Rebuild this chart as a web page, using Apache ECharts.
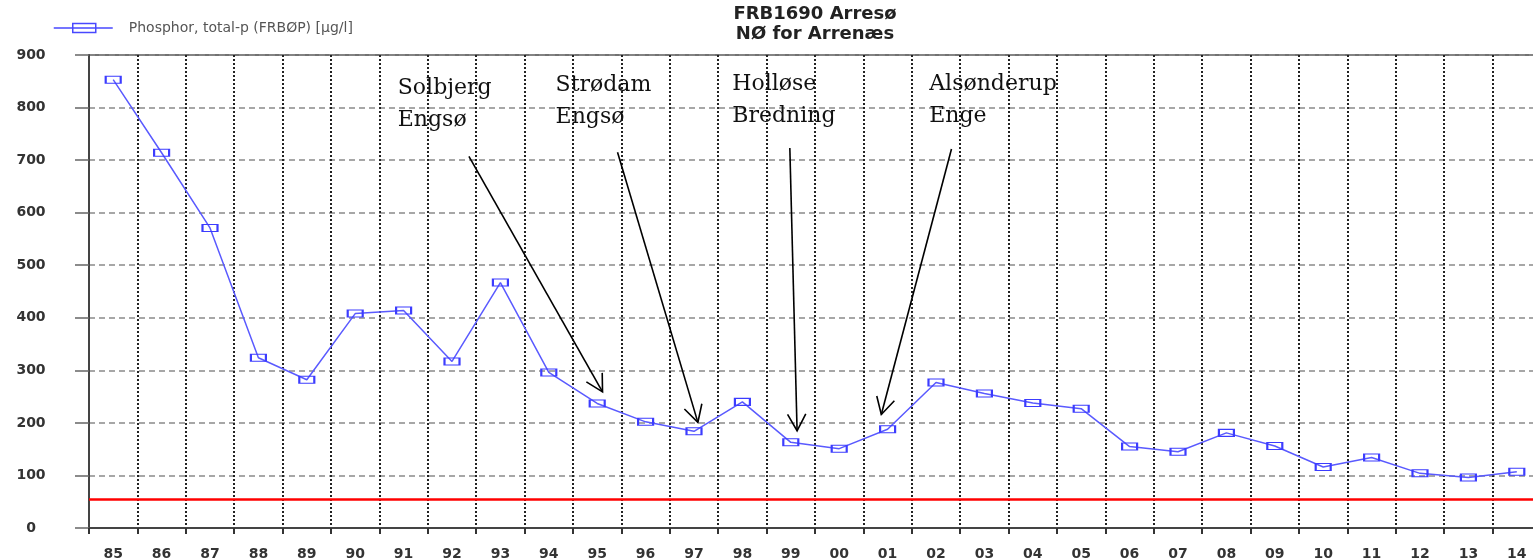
<!DOCTYPE html>
<html>
<head>
<meta charset="utf-8">
<script src="https://cdn.jsdelivr.net/npm/echarts@6/dist/echarts.min.js"></script>
<style>
  html, body { margin: 0; padding: 0; background: #ffffff; }
  #chart { width: 1533px; height: 560px; }
</style>
</head>
<body>
<div id="chart"></div>
<script>
// ---- Data ----
const years = ['85','86','87','88','89','90','91','92','93','94','95','96','97','98','99',
               '00','01','02','03','04','05','06','07','08','09','10','11','12','13','14'];
const phosphorValues = [853, 714, 571, 324, 282, 408, 414, 317, 467, 296, 237, 202, 184, 240, 163,
                        151, 188, 277, 256, 238, 227, 155, 145, 181, 156, 116, 134, 104, 96, 107];
const seriesName = 'Phosphor, total-p (FRBØP) [µg/l]';
const titleLines = ['FRB1690 Arresø', 'NØ for Arrenæs'];
const yTicks = [0, 100, 200, 300, 400, 500, 600, 700, 800, 900];
const targetValue = 54;

// annotations (x in category-index units, y in µg/l)
const annoLabels = ['Solbjerg\nEngsø', 'Strødam\nEngsø', 'Holløse\nBredning', 'Alsønderup\nEnge'];
const annoTextX  = [5.88, 9.14, 12.79, 16.86];
const annoTextY  = [868, 873, 874, 875];
const arrowTailX = [7.35, 10.42, 13.98, 17.32];
const arrowTailY = [707, 715, 723, 721];
const arrowTipX  = [10.11, 12.08, 14.13, 15.87];
const arrowTipY  = [259, 201, 185, 216];

const annoData = annoLabels.map((l, i) =>
  [annoTextX[i], annoTextY[i], arrowTailX[i], arrowTailY[i], arrowTipX[i], arrowTipY[i], i]);

const chart = echarts.init(document.getElementById('chart'), null, { renderer: 'canvas' });

const labelFont = { fontFamily: 'DejaVu Sans', fontWeight: 'bold', fontSize: 14, color: '#333' };

const option = {
  animation: false,
  backgroundColor: '#ffffff',
  title: {
    text: titleLines.join('\n'),
    left: 815,
    textAlign: 'center',
    top: 4,
    padding: 0,
    textStyle: { fontFamily: 'DejaVu Sans', fontWeight: 'bold', fontSize: 18, lineHeight: 20, color: '#222' }
  },
  legend: {
    left: 53, top: 21, padding: 0,
    itemWidth: 59, itemHeight: 9,
    icon: 'path://M0,4.5L59,4.5M19,0L42,0L42,9L19,9Z',
    itemStyle: { color: 'transparent', borderColor: '#4848ff', borderWidth: 1.5 },
    textStyle: { fontFamily: 'DejaVu Sans', fontSize: 14, color: '#555', padding: [0, 0, 0, 11] },
    data: [seriesName]
  },
  grid: {
    left: 89, top: 55, bottom: 32, width: 1452,
    outerBoundsMode: 'none',
    containLabel: false,
    show: true, borderColor: '#444', borderWidth: 1.5, backgroundColor: 'transparent'
  },
  xAxis: [{
    type: 'category',
    data: years,
    boundaryGap: true,
    axisLine: { show: true, lineStyle: { color: '#444', width: 2 } },
    axisTick: { show: true, alignWithLabel: false, length: 6, lineStyle: { color: '#333', width: 2 } },
    axisLabel: Object.assign({ margin: 19, interval: 0 }, labelFont),
    splitLine: { show: true, interval: 0, lineStyle: { color: '#222', width: 2, type: [2, 2] } }
  }, {
    type: 'value', min: -0.5, max: 29.5, show: false, gridIndex: 0,
    axisLine: { show: false, onZero: false },
    splitLine: { show: false }
  }],
  yAxis: {
    type: 'value', min: yTicks[0], max: yTicks[yTicks.length - 1], interval: 100,
    axisLine: { show: true, onZero: false, lineStyle: { color: '#444', width: 2 } },
    axisTick: { show: true, length: 14, lineStyle: { color: '#666', width: 1.5 } },
    axisLabel: Object.assign({ margin: 58, align: 'center' }, labelFont),
    splitLine: { show: true, lineStyle: { color: '#8a8a8a', width: 1.5, type: [6, 4] } }
  },
  series: [{
    name: seriesName,
    type: 'line',
    data: phosphorValues,
    symbol: 'rect',
    symbolSize: [15, 7],
    lineStyle: { color: '#5a5aff', width: 1.5 },
    itemStyle: { color: 'transparent', borderColor: '#3c3cff', borderWidth: 1.5 },
    z: 3,
    markLine: {
      silent: true,
      symbol: ['none', 'none'],
      label: { show: false },
      lineStyle: { color: '#ff0000', width: 2.5, type: 'solid' },
      data: [{ yAxis: targetValue }]
    }
  }, {
    type: 'custom',
    xAxisIndex: 1,
    yAxisIndex: 0,
    z: 10,
    silent: true,
    data: annoData,
    encode: { x: [0, 2, 4], y: [1, 3, 5] },
    renderItem: function (params, api) {
      const t = api.coord([api.value(0), api.value(1)]);
      const a = api.coord([api.value(2), api.value(3)]);
      const b = api.coord([api.value(4), api.value(5)]);
      const idx = api.value(6);
      const ang = Math.atan2(b[1] - a[1], b[0] - a[0]);
      const L = 19, spread = 0.5;
      const w1 = [b[0] - L * Math.cos(ang - spread), b[1] - L * Math.sin(ang - spread)];
      const w2 = [b[0] - L * Math.cos(ang + spread), b[1] - L * Math.sin(ang + spread)];
      const stroke = { stroke: '#000', lineWidth: 1.6, fill: null };
      return {
        type: 'group',
        children: [
          { type: 'line', shape: { x1: a[0], y1: a[1], x2: b[0], y2: b[1] }, style: stroke },
          { type: 'polyline', shape: { points: [w1, b, w2] }, style: stroke },
          { type: 'text', x: t[0], y: t[1],
            style: { text: annoLabels[idx], fill: '#111', font: '22px "DejaVu Serif"',
                     lineHeight: 32, align: 'left', verticalAlign: 'top' } }
        ]
      };
    }
  }]
};
chart.setOption(option);
</script>
</body>
</html>
